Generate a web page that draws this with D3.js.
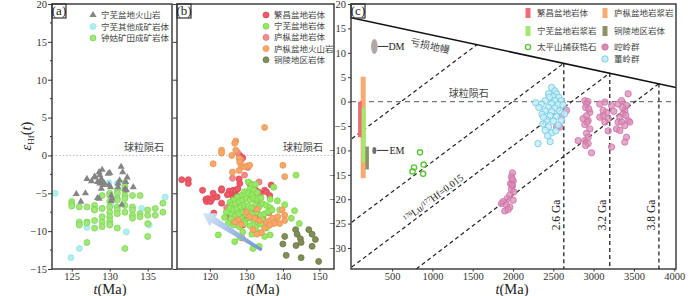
<!DOCTYPE html>
<html lang="zh">
<head>
<meta charset="UTF-8">
<title>εHf(t) vs t 图</title>
<script src="https://d3js.org/d3.v7.min.js"></script>
<style>
  body { margin: 0; background: #fff; }
  svg { display: block; font-family: "Liberation Serif", "Noto Sans CJK SC", serif; }
  .frame { fill: none; stroke: #333; stroke-width: 1.4px; }
  .tick line { stroke: #333; }
  .tick text { fill: #333; font-size: 10.5px; font-family: "Liberation Serif", serif; }
  .leg { font-family: "Noto Sans CJK SC", sans-serif; font-size: 8.5px; fill: #444; }
  .cn { font-family: "Noto Sans CJK SC", sans-serif; fill: #444; }
  .lab { font-size: 14.5px; fill: #222; }
</style>
</head>
<body>
<svg width="700" height="296"></svg>
<script>
// ---------- panel (a) ----------
const aVolcanic = [[125.6,-5.1],[126.2,-6.1],[126.8,-5.0],[127.0,-3.1],[127.6,-3.4],[128.0,-2.8],[128.1,-2.9],[128.4,-3.5],
  [128.6,-2.2],[128.7,-2.6],[128.9,-3.1],[129.0,-1.9],[129.0,-3.5],[128.7,-3.7],[128.9,-4.4],[128.6,-5.7],[128.4,-5.6],
  [129.1,-3.9],[129.3,-3.7],[129.8,-2.4],[130.0,-2.3],[130.1,-4.2],[129.9,-3.9],[130.2,-5.3],[130.3,-5.7],[130.2,-6.0],
  [131.1,-3.7],[131.1,-4.2],[131.3,-3.3],[131.5,-1.5],[131.7,-2.2],[132.1,-3.5],[132.0,-4.4],[132.2,-4.6],[132.3,-2.9],
  [133.1,-4.2],[131.6,-6.5]];
const aOther = [[122.8,-5.0],[126.0,-12.3],[124.9,-13.5],[127.0,-9.5],[126.0,-9.1],[129.0,-7.0],[130.2,-6.5],[129.9,-3.6],
  [131.0,-3.7],[132.2,-10.1],[134.2,-7.0],[135.2,-9.2],[137.3,-5.5]];
const aZhonggu = [[125,-6.1],[125,-6.4],[125,-6.7],[126,-6.8],[126,-8.8],[126,-9.2],[127,-6.8],[127,-8.8],[127,-8.9],[127,-11.5],
  [128,-6.6],[128,-7.1],[128,-7.2],[128,-8.6],[128,-9.6],[129,-5.3],[129,-7.0],[129,-8.1],[129,-8.8],[129,-9.4],
  [130,-5.0],[130,-5.3],[130,-6.1],[130,-6.8],[130,-7.5],[130,-8.1],[130,-8.6],[130,-9.0],[130,-9.2],
  [131,-4.6],[131,-5.0],[131,-5.7],[131,-5.9],[131,-6.8],[131,-7.2],[131,-7.7],[131,-9.6],
  [132,-3.6],[132,-4.1],[132,-4.6],[132,-5.3],[132,-5.7],[132,-6.6],[132,-7.5],[132,-12.3],
  [133,-5.3],[133,-6.8],[133,-7.2],[133,-7.9],[133,-8.3],[134,-5.3],[134,-7.7],[134,-8.1],
  [135,-7.2],[135,-7.9],[135,-9.0],[135,-10.7],[136,-7.0],[136,-7.9],[137,-6.3],[137,-7.5]];
const aNames = ["宁芜盆地火山岩", "宁芜其他成矿岩体", "钟姑矿田成矿岩体"];

// ---------- panel (b) ----------
const bFanchang = [[112.3,-3.2],[114.1,-3.2],[114.1,-3.7],[118.0,-4.6],[118.9,-5.8],[119.1,-6.1],[119.5,-5.7],[120.0,-5.9],
  [120.2,-6.1],[120.7,-5.7],[120.9,-5.0],[121.1,-7.6],[123.2,-6.3],[123.2,-4.6],[123.2,-4.4],[125.3,-4.7],[126.0,-5.0],
  [126.4,-5.5],[126.4,-4.6],[127.1,-4.6],[127.3,-5.3],[127.7,-4.4],[125.5,-6.6],[126.2,-7.2],[126.8,-7.0],[127.7,-6.6],
  [128.2,-7.7],[128.9,-7.2],[128.2,-3.7],[128.0,-3.1],[128.2,0.0],[129.0,-0.3],[130.9,-3.7],[131.4,-4.2],[131.8,-5.3],
  [132.5,-4.6],[133.2,-4.8],[133.8,-5.1],[135.0,-4.6],[135.5,-4.8],[136.4,-5.3],[136.8,-3.9],[130.2,-8.1],[131.4,-7.5],
  [132.7,-7.9],[134.5,-8.3],[129.1,-9.2],[125.9,-8.3],[125.3,-8.1],[124.8,-5.2],[122.0,-5.5]];
const bLuzongPluton = [[127.6,0.4],[128.6,-0.6],[130.4,-1.6],[126.2,-3.0],[129.5,-2.6],[133.5,-3.5],[124.6,-6.9],
  [132.8,-6.2],[136.2,-7.6],[128.8,-10.9]];
const bLuzongVolc = [[135.0,3.7],[127.1,1.9],[123.2,0.7],[127.1,0.7],[126.8,1.6],[123.2,0.3],[126.0,0.0],[128.0,-0.4],
  [128.2,-0.9],[128.6,-1.5],[129.3,-1.5],[130.2,-1.4],[130.9,-1.3],[120.9,-1.1],[126.2,-2.2],[128.0,-2.0],[140.0,-1.3],
  [140.5,-2.8],[130.0,-7.5],[130.9,-8.1],[132.3,-8.3],[133.6,-8.6],[135.5,-8.8],[136.4,-8.6],[137.3,-8.3],[138.2,-8.8],
  [138.6,-8.1],[139.8,-7.2],[140.5,-7.9],[140.5,-8.6],[139.1,-9.0],[137.5,-9.0],[136.4,-9.2],[135.0,-9.6],[134.1,-10.2],
  [132.9,-10.4],[131.8,-9.8],[128.6,-9.1],[127.7,-8.5],[126.8,-8.8],[132.9,-7.1]];
const bNingwu = [[130.5,-3.5],[131.5,-3.9],[132.5,-3.8],[131,-4.4],[132,-4.6],[133,-4.9],[129.5,-4.8],[130.5,-5.0],
  [131.5,-5.2],[128.5,-5.3],[127.5,-5.5],[126.5,-5.9],[125.5,-6.2],[126,-6.6],[127,-6.4],[128,-6.1],[129,-5.9],[130,-5.7],
  [131,-5.9],[132,-5.6],[133,-5.8],[134,-5.6],[125.5,-7.0],[126.5,-7.2],[127.5,-7.0],[128.5,-6.8],[129.5,-6.6],
  [130.5,-6.7],[131.5,-6.9],[132.5,-6.5],[133.5,-6.8],[134.5,-6.4],[135.5,-6.6],[136.5,-6.9],[126,-7.8],[127,-8.0],
  [128,-7.7],[129,-7.5],[130,-7.8],[131,-7.6],[132,-7.8],[133,-7.5],[134,-7.9],[135,-7.7],[136,-7.4],[137,-7.2],
  [125.8,-8.4],[127.2,-8.6],[128.5,-8.4],[129.6,-8.7],[130.8,-8.3],[132,-8.6],[133.2,-8.9],[134.4,-8.5],[126.5,-9.2],
  [128,-9.4],[129.5,-9.0],[131,-9.3],[132.5,-9.5],[134,-9.1],[135.5,-9.6],[124.5,-7.5],[124,-8.2],[125,-9.0],
  [129,-10.1],[131.5,-10.4],[133.5,-10.2],[136.5,-10.5],[143.6,-2.6],[143.2,-7.3],[144.5,-9.0],[142.3,-8.3],
  [135,-10.7],[131.8,-12.3],[126.8,-11.4],[122.3,-10.5],[140.5,-6.5],[138.5,-6.0],[137.5,-4.2],[136.5,-5.8],
  [128.2,-10.8],[133.5,-12.0],[139.1,-7.2]];
const bTongling = [[143.5,-9.8],[140.5,-10.7],[143.9,-10.4],[144.8,-11.0],[145.0,-11.5],[147.1,-9.8],[148.0,-10.4],
  [148.9,-11.1],[148.0,-12.0],[140.9,-13.2],[145.0,-13.5],[149.8,-14.0],[140.0,-11.7],[143.6,-11.9]];
const bNames = ["繁昌盆地岩体", "宁芜盆地岩体", "庐枞盆地岩体", "庐枞盆地火山岩", "铜陵地区岩体"];
const bArrow = [[134.2,-12.5],[118.0,-7.6]]; // tail, head

// ---------- panel (c) ----------
const dmLine = [[-10,17.2],[4022,2.9]];
const crustLines = [[[0,-7.6],[1555,11.7]], [[0,-24.7],[2630,7.87]], [[0,-33.9],[3200,5.85]], [[800,-34.3],[3810,3.69]]];
const modelAges = [2630, 3200, 3810];
const modelAgeLabels = ["2.6 Ga", "3.2 Ga", "3.8 Ga"];
const modelAgeTop = [7.87, 5.85, 3.69];
const barNames = ["庐枞盆地岩浆岩", "繁昌盆地岩体", "宁芜盆地岩浆岩", "铜陵地区岩体"];
const barHigh = [5.1, 0, -1.2, -9.2];
const barLow = [-15.7, -7.3, -12.4, -13.9];
const taiping = [[846,-10.4],[772,-13.5],[753,-14.3],[891,-12.9],[885,-14.8]];
const kongling = [[1993,-14.6],[1981,-15.4],[2002,-16.3],[1969,-16.8],[1993,-17.3],[1981,-18.0],[2010,-18.5],[1960,-19.2],
  [1927,-19.9],[2002,-20.2],[1877,-20.5],[1857,-20.9],[1919,-21.2],[1960,-21.6],[1898,-22.4],[1940,-22.1],[1985,-17.0],
  [1990,-15.9],
  [2891,0.2],[2930,0.0],[2912,-0.5],[2900,-1.2],[2953,-2.2],[2912,-2.9],[2932,-3.9],[2891,-4.7],[2953,-5.6],[2912,-6.5],
  [2932,-7.3],[2891,-8.0],[2932,-8.6],[2808,-8.0],[2974,-10.5],[2900,-9.0],[2870,-3.5],[2920,-4.2],[2940,-1.5],
  [3077,-0.5],[3139,-0.1],[3160,-2.2],[3118,-2.9],[3180,-3.5],[3222,-0.8],[3304,-0.5],[3346,0.2],[3387,-1.8],[3408,-0.8],
  [3428,1.6],[3366,-2.5],[3325,-3.2],[3304,-4.2],[3346,-4.2],[3387,-4.9],[3284,-5.6],[3428,-3.9],[3449,-4.2],[3325,-5.9],
  [3408,-7.3],[3387,-8.3],[3118,-1.8],[3077,-3.2],[3139,-4.2],[3222,-9.3],[3360,-1.2],[3400,-2.8],[3250,-2.0],[3180,-6.0],
  [2540,-5.2],[2580,-5.2],[2663,-1.8],[2600,-3.0]];
const dongling = [[2480,2.9],[2520,2.2],[2440,1.6],[2540,1.6],[2500,1.0],[2450,0.9],[2570,0.9],[2400,0.2],[2520,0.2],
  [2600,0.2],[2350,-0.5],[2480,-0.4],[2560,-0.6],[2620,-0.7],[2320,-1.2],[2440,-1.2],[2520,-1.3],[2400,-1.9],[2480,-2.0],
  [2580,-1.9],[2360,-2.6],[2460,-2.9],[2540,-3.0],[2420,-3.8],[2500,-4.0],[2600,-3.8],[2370,-4.6],[2440,-5.2],[2400,-5.9],
  [2480,-6.4],[2310,-8.6],[2460,-8.2],[2530,-6.0],[2640,-2.5],[2280,-0.2],[2430,-7.0],[2380,-3.2],[2560,-4.8]];
const dmPoint = [280, 11.3];
const emPoint = [280, -10.0];

// ---------- layout ----------
const plotTop = 4, plotBottom = 269;
const svg = d3.select("svg");

const xa = d3.scaleLinear().domain([122.4, 138.2]).range([52, 172]);
const ya = d3.scaleLinear().domain([-15, 20]).range([plotBottom, plotTop]);
const xb = d3.scaleLinear().domain([111, 154]).range([177, 334]);
const xc = d3.scaleLinear().domain([-10, 4022]).range([351, 676]);
const yc = d3.scaleLinear().domain([-34.3, 20]).range([plotBottom, plotTop]);

function clip(id, x) {
  svg.append("clipPath").attr("id", id).append("rect")
    .attr("x", x.range()[0]).attr("y", plotTop)
    .attr("width", x.range()[1] - x.range()[0]).attr("height", plotBottom - plotTop);
}
clip("ca", xa); clip("cb", xb); clip("cc", xc);

function styleAxis(s) {
  s.select(".domain").remove();
  s.attr("font-family", null).attr("font-size", null);
}

function xAxis(x, ticks) {
  svg.append("g").attr("transform", `translate(0,${plotBottom})`)
    .call(d3.axisBottom(x).tickValues(ticks).tickSize(2.5).tickPadding(1).tickFormat(d3.format("d")))
    .call(styleAxis);
}
function yAxis(x0, y, ticks, labels) {
  const g = svg.append("g").attr("transform", `translate(${x0},0)`)
    .call(d3.axisLeft(y).tickValues(ticks).tickSize(4).tickPadding(1).tickFormat(labels ? d3.format("d") : ""))
    .call(styleAxis);
  return g;
}
function minorY(x0, y, vals) {
  svg.append("g").selectAll("line").data(vals).join("line")
    .attr("x1", x0 - 2).attr("x2", x0).attr("y1", d => y(d)).attr("y2", d => y(d))
    .attr("stroke", "#333");
}
function frame(x, label) {
  const [x0, x1] = x.range();
  svg.append("rect").attr("class", "frame").attr("x", x0).attr("y", plotTop)
    .attr("width", x1 - x0).attr("height", plotBottom - plotTop);
  svg.append("rect").attr("class", "frame").attr("x", x0).attr("y", plotTop)
    .attr("width", 14).attr("height", 14).style("stroke-width", "1.2px");
  svg.append("text").attr("x", x0 + 7).attr("y", plotTop + 11).attr("text-anchor", "middle")
    .style("font-size", "13px").attr("fill", "#222").text(label);
}
function tLabel(cx) {
  const t = svg.append("text").attr("class", "lab").attr("x", cx).attr("y", 294).attr("text-anchor", "middle");
  t.append("tspan").attr("font-style", "italic").text("t");
  t.append("tspan").text("(Ma)");
}
function dots(g, data, x, y, r, fill, stroke, op) {
  g.append("g").selectAll("circle").data(data).join("circle")
    .attr("cx", d => x(d[0])).attr("cy", d => y(d[1])).attr("r", r)
    .attr("fill", fill).attr("fill-opacity", op || 1)
    .attr("stroke", stroke).attr("stroke-width", 0.8);
}
const tri = d3.symbol().type(d3.symbolTriangle).size(22);

// ---------- panel (a) ----------
const gA = svg.append("g");
gA.append("line").attr("x1", 52).attr("x2", 172).attr("y1", ya(0)).attr("y2", ya(0))
  .attr("stroke", "#bbb").attr("stroke-dasharray", "1.5,2");
gA.append("text").attr("class", "cn").attr("x", 164).attr("y", ya(0) - 4)
  .attr("text-anchor", "end").style("font-size", "10px").text("球粒陨石");
dots(gA, aOther, xa, ya, 3, "#aef0ee", "#98e4e4");
dots(gA, aZhonggu, xa, ya, 3, "#a0e878", "#7fd455");
gA.append("g").selectAll("path").data(aVolcanic).join("path")
  .attr("d", tri).attr("transform", d => `translate(${xa(d[0])},${ya(d[1])})`)
  .attr("fill", "#858585");

yAxis(52, ya, d3.range(-15, 21, 5), true);
minorY(52, ya, d3.range(-12.5, 20, 5));
xAxis(xa, [125, 130, 135]);
frame(xa, "(a)");
tLabel(110);

// legend a
const legA = svg.append("g");
aNames.forEach((n, i) => {
  const yy = 15 + i * 11.5;
  if (i === 0) legA.append("path").attr("d", tri).attr("transform", `translate(93,${yy})`).attr("fill", "#858585");
  else legA.append("circle").attr("cx", 93).attr("cy", yy).attr("r", 3)
    .attr("fill", i === 1 ? "#aef0ee" : "#a0e878").attr("stroke", i === 1 ? "#98e4e4" : "#7fd455").attr("stroke-width", 0.8);
  legA.append("text").attr("class", "leg").attr("x", 101).attr("y", yy + 3).text(n);
});

// y label
const yl = svg.append("text").attr("class", "lab").attr("text-anchor", "middle")
  .attr("transform", "translate(31,136) rotate(-90)");
yl.append("tspan").attr("font-style", "italic").text("ε");
yl.append("tspan").attr("dy", 3).style("font-size", "9px").text("Hf");
yl.append("tspan").attr("dy", -3).text("(");
yl.append("tspan").attr("font-style", "italic").text("t");
yl.append("tspan").text(")");

// ---------- panel (b) ----------
const gB = svg.append("g");
gB.append("line").attr("x1", 177).attr("x2", 334).attr("y1", ya(0)).attr("y2", ya(0))
  .attr("stroke", "#bbb").attr("stroke-dasharray", "1.5,2");
gB.append("text").attr("class", "cn").attr("x", 323).attr("y", ya(0) - 4)
  .attr("text-anchor", "end").style("font-size", "10px").text("球粒陨石");

const bCol = {
  red: ["#ee5a66", "#dc4656"], green: ["#98e866", "#7cd64c"], salmon: ["#f28c8c", "#e57676"],
  orange: ["#f6a868", "#ec9452"], olive: ["#808d58", "#6c7a46"]
};
dots(gB, bFanchang, xb, ya, 3, bCol.red[0], bCol.red[1]);
dots(gB, bLuzongPluton, xb, ya, 3, bCol.salmon[0], bCol.salmon[1]);
dots(gB, bNingwu, xb, ya, 3, bCol.green[0], bCol.green[1]);
dots(gB, bLuzongVolc, xb, ya, 3, bCol.orange[0], bCol.orange[1]);
dots(gB, bTongling, xb, ya, 3, bCol.olive[0], bCol.olive[1]);

// arrow
{
  const p0 = [xb(bArrow[0][0]), ya(bArrow[0][1])], p1 = [xb(bArrow[1][0]), ya(bArrow[1][1])];
  const dx = p1[0] - p0[0], dy = p1[1] - p0[1], L = Math.hypot(dx, dy);
  const u = [dx / L, dy / L], n = [-u[1], u[0]];
  const neck = [p1[0] - 13 * u[0], p1[1] - 13 * u[1]];
  const pt = (p, k) => [p[0] + k * n[0], p[1] + k * n[1]];
  const poly = [pt(p0, 1.5), pt(neck, 3.5), pt(neck, 7.5), p1, pt(neck, -7.5), pt(neck, -3.5), pt(p0, -1.5)];
  const grad = svg.append("defs").append("linearGradient").attr("id", "arrowGrad")
    .attr("gradientUnits", "userSpaceOnUse")
    .attr("x1", p0[0]).attr("y1", p0[1]).attr("x2", p1[0]).attr("y2", p1[1]);
  grad.append("stop").attr("offset", 0).attr("stop-color", "#6a93d0");
  grad.append("stop").attr("offset", 1).attr("stop-color", "#d8e8f8");
  gB.append("path").attr("d", d3.line()(poly) + "Z").attr("fill", "url(#arrowGrad)");
}

yAxis(177, ya, d3.range(-15, 21, 5), false);
xAxis(xb, [120, 130, 140, 150]);
frame(xb, "(b)");
tLabel(263);

const bLegCols = [bCol.red, bCol.green, bCol.salmon, bCol.orange, bCol.olive];
bNames.forEach((n, i) => {
  const yy = 15 + i * 11.2;
  svg.append("circle").attr("cx", 266).attr("cy", yy).attr("r", 3)
    .attr("fill", bLegCols[i][0]).attr("stroke", bLegCols[i][1]).attr("stroke-width", 0.8);
  svg.append("text").attr("class", "leg").attr("x", 274).attr("y", yy + 3).text(n);
});

// ---------- panel (c) ----------
const gC = svg.append("g").attr("clip-path", "url(#cc)");
const line = d3.line().x(d => xc(d[0])).y(d => yc(d[1]));

gC.append("line").attr("x1", 351).attr("x2", 676).attr("y1", yc(0)).attr("y2", yc(0))
  .attr("stroke", "#777").attr("stroke-width", 1.4).attr("stroke-dasharray", "5,4");
gC.append("g").selectAll("path").data(crustLines).join("path")
  .attr("d", line).attr("fill", "none").attr("stroke", "#222").attr("stroke-width", 1.2)
  .attr("stroke-dasharray", "4,3");
gC.append("g").selectAll("line").data(modelAges).join("line")
  .attr("x1", d => xc(d)).attr("x2", d => xc(d))
  .attr("y1", (d, i) => yc(modelAgeTop[i])).attr("y2", plotBottom)
  .attr("stroke", "#333").attr("stroke-width", 1.4).attr("stroke-dasharray", "4,3");
gC.append("path").attr("d", line(dmLine)).attr("fill", "none").attr("stroke", "#111").attr("stroke-width", 1.5);

// bars
const barCols = ["#f7aa72", "#f06c72", "#a2ea6e", "#8d9166"];
const barSpan = [[110, 172], [78, 125], [122, 172], [168, 212]];
gC.append("g").selectAll("rect").data(barNames).join("rect")
  .attr("x", (d, i) => xc(barSpan[i][0])).attr("width", (d, i) => xc(barSpan[i][1]) - xc(barSpan[i][0]))
  .attr("y", (d, i) => yc(barHigh[i])).attr("height", (d, i) => yc(barLow[i]) - yc(barHigh[i]))
  .attr("fill", (d, i) => barCols[i]);

// DM / EM
gC.append("ellipse").attr("cx", xc(dmPoint[0])).attr("cy", yc(dmPoint[1])).attr("rx", 3.3).attr("ry", 7.5).attr("fill", "#b0a8a8");
gC.append("line").attr("x1", xc(dmPoint[0]) + 3.5).attr("x2", xc(dmPoint[0]) + 14)
  .attr("y1", yc(dmPoint[1])).attr("y2", yc(dmPoint[1])).attr("stroke", "#333");
svg.append("text").attr("x", xc(dmPoint[0]) + 14).attr("y", yc(dmPoint[1]) + 4)
  .style("font-size", "10px").attr("fill", "#222").text("DM");
gC.append("ellipse").attr("cx", xc(emPoint[0])).attr("cy", yc(emPoint[1])).attr("rx", 2).attr("ry", 3.5).attr("fill", "#6e6e6e");
gC.append("line").attr("x1", xc(emPoint[0]) + 2.5).attr("x2", xc(emPoint[0]) + 14)
  .attr("y1", yc(emPoint[1])).attr("y2", yc(emPoint[1])).attr("stroke", "#333");
svg.append("text").attr("x", xc(emPoint[0]) + 15).attr("y", yc(emPoint[1]) + 4)
  .style("font-size", "10px").attr("fill", "#222").text("EM");

// points
gC.append("g").selectAll("circle").data(taiping).join("circle")
  .attr("cx", d => xc(d[0])).attr("cy", d => yc(d[1])).attr("r", 2.6)
  .attr("fill", "none").attr("stroke", "#5cc63a").attr("stroke-width", 1.4);
dots(gC, kongling, xc, yc, 3.2, "#dc8ab6", "#cc72a5", 0.75);
dots(gC, dongling, xc, yc, 3.2, "#c6edf8", "#6cc6e2", 0.85);

// texts in (c)
{
  const a = Math.atan2(yc(dmLine[1][1]) - yc(dmLine[0][1]), xc(dmLine[1][0]) - xc(dmLine[0][0])) * 180 / Math.PI;
  svg.append("text").attr("class", "cn").style("font-size", "10px").attr("text-anchor", "middle")
    .attr("transform", `translate(${xc(1000)},${yc(13.7)}) rotate(${a}) translate(0,15)`).text("亏损地幔");
  svg.append("text").attr("class", "cn").style("font-size", "10px").attr("text-anchor", "middle")
    .attr("x", xc(1450)).attr("y", yc(0) - 5).text("球粒陨石");
  const l = crustLines[2];
  const b = Math.atan2(yc(l[1][1]) - yc(l[0][1]), xc(l[1][0]) - xc(l[0][0])) * 180 / Math.PI;
  const lt = svg.append("text").attr("text-anchor", "middle").style("font-size", "10px").attr("fill", "#222")
    .attr("transform", `translate(${xc(1060)},${yc(-20.8)}) rotate(${b}) translate(0,-3)`);
  lt.append("tspan").attr("dy", -3).style("font-size", "6.5px").text("176");
  lt.append("tspan").attr("dy", 3).text("Lu/");
  lt.append("tspan").attr("dy", -3).style("font-size", "6.5px").text("177");
  lt.append("tspan").attr("dy", 3).text("Hf=0.015");
  modelAges.forEach((m, i) => {
    svg.append("text").attr("text-anchor", "middle").style("font-size", "11.5px").attr("fill", "#222")
      .attr("transform", `translate(${xc(m) - 4},215) rotate(-90)`).text(modelAgeLabels[i]);
  });
}

yAxis(351, yc, d3.range(-30, 21, 5), true).call(g => g.selectAll("line").attr("x2", -3));
xAxis(xc, d3.range(500, 4001, 500));
frame(xc, "(c)");
tLabel(512);

// legend c
{
  const g = svg.append("g");
  const rows = [
    [528, 13, "rect", barCols[1], "繁昌盆地岩体"], [605, 13, "rect", barCols[0], "庐枞盆地岩浆岩"],
    [528, 31, "rect", barCols[2], "宁芜盆地岩浆岩"], [605, 31, "rect", barCols[3], "铜陵地区岩体"],
    [528, 47, "open", "#5cc63a", "太平山捕获锆石"], [605, 47, "pink", "", "崆岭群"],
    [605, 59, "blue", "", "董岭群"]
  ];
  rows.forEach(([x, y, kind, c, n]) => {
    if (kind === "rect") g.append("rect").attr("x", x - 2.5).attr("y", y - 5).attr("width", 5).attr("height", 10).attr("fill", c);
    else if (kind === "open") g.append("circle").attr("cx", x).attr("cy", y).attr("r", 2.6)
      .attr("fill", "none").attr("stroke", c).attr("stroke-width", 1.4);
    else if (kind === "pink") g.append("circle").attr("cx", x).attr("cy", y).attr("r", 3.2)
      .attr("fill", "#dc8ab6").attr("stroke", "#cc72a5").attr("stroke-width", 0.8);
    else g.append("circle").attr("cx", x).attr("cy", y).attr("r", 3.2)
      .attr("fill", "#c6edf8").attr("stroke", "#6cc6e2").attr("stroke-width", 0.8);
    g.append("text").attr("class", "leg").attr("x", x + 9).attr("y", y + 3).text(n);
  });
}
</script>
</body>
</html>
